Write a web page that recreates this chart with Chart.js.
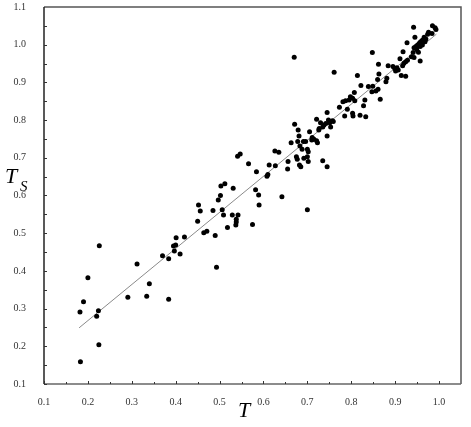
<!DOCTYPE html>
<html lang="en">
<head>
    <meta charset="UTF-8">
    <title>T vs Ts scatter</title>
    <script src="https://cdn.jsdelivr.net/npm/chart.js"></script>
    <style>
        * {
            margin: 0;
            padding: 0;
            box-sizing: border-box;
        }

        body {
            background: #ffffff;
            width: 471px;
            height: 427px;
            overflow: hidden;
        }

        .chart-container {
            width: 471px;
            height: 427px;
            position: relative;
        }
    </style>
</head>
<body>
    <div class="chart-container">
        <canvas id="scatterChart" width="471" height="427"></canvas>
    </div>

    <script>
        // Points (T on x, Ts on y)
        const tValues = [
            0.183, 0.182, 0.190, 0.200, 0.226, 0.224, 0.220, 0.225, 0.312, 0.291,
            0.340, 0.334, 0.384, 0.370, 0.384, 0.395, 0.400, 0.401, 0.420, 0.397,
            0.410,
            0.452, 0.456, 0.450, 0.485, 0.497, 0.502, 0.503, 0.512, 0.531, 0.506,
            0.509, 0.529, 0.542, 0.538, 0.538, 0.537, 0.518, 0.464, 0.471, 0.490,
            0.493, 0.575, 0.582, 0.589, 0.590, 0.642, 0.700, 0.541, 0.547, 0.566,
            0.613, 0.627, 0.584, 0.610, 0.608, 0.656, 0.655, 0.626, 0.635, 0.675,
            0.677, 0.682, 0.685, 0.692, 0.700, 0.702, 0.735, 0.745,
            0.671, 0.679, 0.705, 0.681, 0.678, 0.691, 0.696, 0.711, 0.715, 0.710,
            0.721, 0.723, 0.745, 0.663, 0.683, 0.688, 0.700, 0.702, 0.721, 0.730,
            0.738, 0.742, 0.748, 0.751, 0.757, 0.759, 0.735, 0.727, 0.726, 0.753,
            0.745, 0.773, 0.791, 0.803, 0.804, 0.785, 0.820, 0.833, 0.798, 0.803,
            0.795, 0.787, 0.781, 0.808, 0.831, 0.828, 0.822, 0.839, 0.849, 0.861,
            0.847, 0.866,
            0.670, 0.761, 0.814, 0.807, 0.862, 0.863, 0.860, 0.848,
            0.942, 0.985, 0.991, 0.993, 0.976, 0.984, 0.974, 0.945, 0.966, 0.970,
            0.962, 0.968, 0.958, 0.955, 0.951, 0.947, 0.943, 0.957, 0.962, 0.949,
            0.953, 0.927, 0.918, 0.941, 0.937, 0.943, 0.957, 0.911, 0.928, 0.924,
            0.920, 0.917, 0.884, 0.895, 0.899, 0.904, 0.907, 0.901, 0.914, 0.924,
            0.881, 0.879, 0.856
        ];
        const tsValues = [
            0.159, 0.291, 0.318, 0.382, 0.467, 0.294, 0.280, 0.204, 0.418, 0.330,
            0.366, 0.333, 0.325, 0.440, 0.432, 0.466, 0.469, 0.488, 0.490, 0.453,
            0.445,
            0.575, 0.559, 0.532, 0.560, 0.588, 0.600, 0.625, 0.631, 0.619, 0.562,
            0.548, 0.548, 0.548, 0.537, 0.530, 0.522, 0.515, 0.501, 0.505, 0.494,
            0.410, 0.523, 0.615, 0.601, 0.575, 0.597, 0.562, 0.704, 0.710, 0.684,
            0.681, 0.679, 0.663, 0.656, 0.651, 0.690, 0.670, 0.718, 0.715, 0.703,
            0.696, 0.681, 0.676, 0.699, 0.703, 0.690, 0.692, 0.676,
            0.789, 0.774, 0.769, 0.758, 0.743, 0.743, 0.743, 0.754, 0.749, 0.747,
            0.745, 0.740, 0.758, 0.740, 0.731, 0.723, 0.723, 0.716, 0.802, 0.793,
            0.787, 0.791, 0.800, 0.793, 0.798, 0.796, 0.782, 0.778, 0.774, 0.782,
            0.820, 0.834, 0.829, 0.818, 0.811, 0.811, 0.813, 0.809, 0.862, 0.858,
            0.853, 0.851, 0.849, 0.851, 0.853, 0.838, 0.892, 0.889, 0.890, 0.882,
            0.875, 0.855,
            0.967, 0.927, 0.918, 0.873, 0.948, 0.922, 0.908, 0.979,
            1.046, 1.050, 1.045, 1.040, 1.033, 1.030, 1.028, 1.020, 1.020, 1.015,
            1.012, 1.008, 1.008, 1.004, 0.999, 0.995, 0.992, 0.995, 0.999, 0.987,
            0.980, 1.005, 0.981, 0.979, 0.968, 0.966, 0.957, 0.963, 0.959, 0.955,
            0.951, 0.944, 0.944, 0.942, 0.937, 0.939, 0.933, 0.930, 0.918, 0.916,
            0.911, 0.902, 0.877
        ];

        // Fitted line end points
        const trendT = [0.18, 0.994];
        const trendTs = [0.249, 1.028];

        // Tick labels
        const xTicks = [0.1, 0.2, 0.3, 0.4, 0.5, 0.6, 0.7, 0.8, 0.9, 1.0];
        const yTicks = [0.1, 0.2, 0.3, 0.4, 0.5, 0.6, 0.7, 0.8, 0.9, 1.0, 1.1];

        const points = tValues.map((t, i) => ({ x: t, y: tsValues[i] }));
        const trend = trendT.map((t, i) => ({ x: t, y: trendTs[i] }));

        const labelFont = { family: '"Liberation Serif", "DejaVu Serif", serif', size: 10 };

        // frame, inward tick marks and axis titles
        const framePlugin = {
            id: 'frame',
            afterDraw(chart) {
                const ctx = chart.ctx;
                const a = chart.chartArea;
                const xs = chart.scales.x;
                const ys = chart.scales.y;
                ctx.save();

                // top and right border
                ctx.lineWidth = 1.5;
                ctx.strokeStyle = '#555';
                ctx.beginPath();
                ctx.moveTo(a.left, a.top);
                ctx.lineTo(a.right, a.top);
                ctx.lineTo(a.right, a.bottom);
                ctx.stroke();

                // axes
                ctx.strokeStyle = '#222';
                ctx.beginPath();
                ctx.moveTo(a.left, a.top);
                ctx.lineTo(a.left, a.bottom);
                ctx.stroke();
                ctx.strokeStyle = '#666';
                ctx.beginPath();
                ctx.moveTo(a.left, a.bottom);
                ctx.lineTo(a.right, a.bottom);
                ctx.stroke();

                // tick marks every 0.05, pointing inside
                ctx.lineWidth = 1;
                ctx.strokeStyle = '#333';
                for (let k = 2; k <= 21; k++) {
                    const v = k * 0.05;
                    if (v <= 1.0001) {
                        const px = Math.round(xs.getPixelForValue(v)) + 0.5;
                        const len = (k % 2 === 0) ? 3 : 2;
                        ctx.beginPath();
                        ctx.moveTo(px, a.bottom);
                        ctx.lineTo(px, a.bottom - len);
                        ctx.stroke();
                    }
                    const py = Math.round(ys.getPixelForValue(v)) + 0.5;
                    ctx.beginPath();
                    ctx.moveTo(a.left, py);
                    ctx.lineTo(a.left + 3, py);
                    ctx.stroke();
                }

                // axis titles
                ctx.fillStyle = '#000';
                ctx.textAlign = 'center';
                ctx.textBaseline = 'alphabetic';
                ctx.font = 'italic 22px "Liberation Serif", serif';
                ctx.fillText('T', 244, 417);

                ctx.textAlign = 'left';
                ctx.fillText('T', 5, 183);
                ctx.font = 'italic 15px "Liberation Serif", serif';
                ctx.fillText('S', 20, 191);
                ctx.restore();
            }
        };

        new Chart(document.getElementById('scatterChart'), {
            type: 'scatter',
            data: {
                datasets: [{
                    label: 'Ts',
                    data: points,
                    backgroundColor: '#000',
                    borderWidth: 0,
                    pointRadius: 2.5,
                    order: 1
                }, {
                    type: 'line',
                    label: 'fit',
                    data: trend,
                    borderColor: '#8a8a8a',
                    borderWidth: 1,
                    pointRadius: 0,
                    fill: false,
                    order: 2
                }]
            },
            options: {
                responsive: false,
                animation: false,
                layout: {
                    padding: { top: 7, right: 10, left: 0, bottom: 0 }
                },
                plugins: {
                    legend: { display: false },
                    tooltip: { enabled: false }
                },
                scales: {
                    x: {
                        type: 'linear',
                        min: 0.1,
                        max: 1.05,
                        grid: { display: false },
                        border: { display: false },
                        afterBuildTicks: s => { s.ticks = xTicks.map(v => ({ value: v })); },
                        afterFit: s => {
                            s.height = 43;
                            s.paddingLeft = 0;
                            s.paddingRight = 0;
                        },
                        ticks: {
                            padding: 4,
                            color: '#333',
                            font: labelFont,
                            maxRotation: 0,
                            callback: v => Number(v).toFixed(1)
                        }
                    },
                    y: {
                        type: 'linear',
                        min: 0.1,
                        max: 1.1,
                        grid: { display: false },
                        border: { display: false },
                        afterBuildTicks: s => { s.ticks = yTicks.map(v => ({ value: v })); },
                        afterFit: s => {
                            s.width = 44;
                            s.paddingTop = 0;
                            s.paddingBottom = 0;
                        },
                        ticks: {
                            padding: 10,
                            color: '#333',
                            font: labelFont,
                            callback: v => Number(v).toFixed(1)
                        }
                    }
                }
            },
            plugins: [framePlugin]
        });
    </script>
</body>
</html>
